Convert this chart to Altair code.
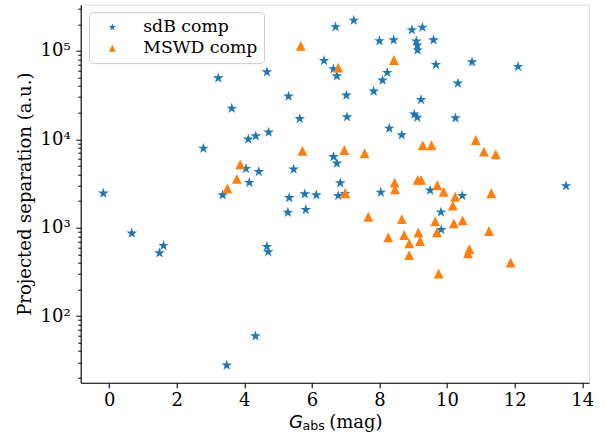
import altair as alt
import pandas as pd

# sdB companions: absolute G magnitude and projected separation (a.u.)
sdb_g = [-0.17, 3.36, 3.23, 4.67, 6.70, 6.36, 6.64, 6.74, 5.31, 3.63, 5.64, 2.79, 4.12, 4.34,
         4.72, 4.05, 4.43, 4.15, 5.46, 6.64, 6.74, 6.84, 5.33, 5.79, 6.13, 6.78, 6.98, 5.29, 5.82,
         0.67, 1.61, 1.49, 4.67, 4.71, 4.33, 3.48, 7.24, 8.00, 8.42, 8.96, 9.27, 9.09, 9.12,
         9.13, 9.60, 9.67, 10.74, 12.10, 8.23, 8.09, 7.83, 7.02, 10.32, 9.23, 7.04, 9.03, 9.12,
         10.25, 8.29, 8.66, 13.52, 8.04, 9.50, 10.45, 9.82, 9.83]
sdb_sep = [2450, 2340, 49400, 57800, 187000, 77600, 62500, 52100, 30700, 22400, 17100, 7900,
           10000, 10900, 12000, 4650, 4300, 3230, 4580, 6350, 5350, 3200, 2180, 2400, 2340, 2300,
           2420, 1490, 1600, 863, 625, 516, 610, 531, 59.4, 27.7, 222000, 130000, 133000, 173000,
           185000, 129000, 116000, 102000, 133000, 70000, 75000, 66500, 56800, 46600, 35000,
           31500, 43100, 28100, 17900, 19200, 17700, 17400, 13300, 11200, 2970, 2510, 2650, 2300,
           1500, 948]

# MSWD companions
mswd_g = [5.67, 6.78, 5.72, 3.88, 3.78, 3.50, 8.43, 6.96, 7.56, 9.28, 9.54, 10.85, 11.09, 11.44,
          8.45, 8.46, 9.13, 9.23, 9.71, 9.90, 10.24, 11.31, 6.99, 10.17, 7.67, 8.66, 9.65, 10.20,
          10.46, 11.24, 8.26, 8.73, 9.15, 8.88, 9.20, 9.70, 8.88, 10.66, 10.62, 11.88, 9.75]
mswd_sep = [114000, 64700, 7430, 5210, 3560, 2790, 79100, 7570, 6950, 8560, 8560, 9820, 7250,
            6770, 3230, 2720, 3470, 3470, 3020, 2550, 2240, 2450, 2450, 1780, 1330, 1250, 1180,
            1120, 1210, 916, 778, 826, 886, 665, 706, 886, 490, 573, 513, 402, 302]

groups = ["sdB comp", "MSWD comp"]
x_ticks = [0, 2, 4, 6, 8, 10, 12, 14]
y_major = [100, 1000, 10000, 100000]
y_minor_mult = [2, 3, 4, 5, 6, 7, 8, 9]

df = pd.DataFrame({
    "g": sdb_g + mswd_g,
    "sep": sdb_sep + mswd_sep,
    "grp": [groups[0]] * len(sdb_g) + [groups[1]] * len(mswd_g),
})

y_vals = []
for d in [10, 100, 1000, 10000, 100000]:
    if d in y_major:
        y_vals.append(d)
    for m in y_minor_mult:
        v = d * m
        if 17.6 <= v <= 334000:
            y_vals.append(v)

STAR = ("M0,-1L0.2245,-0.309L0.9511,-0.309L0.3633,0.118L0.5878,0.809L0,0.382"
        "L-0.5878,0.809L-0.3633,0.118L-0.9511,-0.309L-0.2245,-0.309Z")
TRI = "M0,-0.88L0.88,0.88L-0.88,0.88Z"
SERIF = "DejaVu Serif"
FS = 18

W, H = 508.3, 378

legend_opts = dict(title=None, orient="none", legendX=8.3, legendY=7.4,
                   padding=6.5, cornerRadius=4, strokeColor="#cccccc",
                   fillColor="rgba(255,255,255,0.8)", labelFont=SERIF,
                   labelFontSize=17.3, labelColor="black", symbolSize=60,
                   symbolOffset=8.2, labelOffset=22.2, rowPadding=3,
                   symbolStrokeWidth=0)

points = alt.Chart(df).mark_point(filled=True, opacity=1, size=125, strokeWidth=1).encode(
    x=alt.X("g:Q",
            scale=alt.Scale(domain=[-0.84, 14.2], nice=False, zero=False),
            axis=alt.Axis(values=x_ticks, grid=False, title=None, tickSize=5, tickWidth=1.1,
                          tickColor="black", domainColor="black", domainWidth=1.1,
                          labelFont=SERIF, labelFontSize=FS, labelColor="black",
                          labelPadding=4, labelFlush=False)),
    y=alt.Y("sep:Q",
            scale=alt.Scale(type="log", domain=[17.6, 334000], nice=False),
            axis=alt.Axis(values=y_vals, grid=False, tickWidth=1,
                          tickSize={"condition": {"test": "abs(log(datum.value)/LN10 - round(log(datum.value)/LN10)) < 0.001", "value": 5}, "value": 3},
                          tickColor="black", domainColor="black", domainWidth=1.1,
                          labelExpr="datum.value == 100 ? '10²' : datum.value == 1000 ? '10³' : datum.value == 10000 ? '10⁴' : datum.value == 100000 ? '10⁵' : ''",
                          labelFont=SERIF, labelFontSize=FS, labelColor="black", labelPadding=5.5,
                          labelFlush=False, labelOverlap=False,
                          title="Projected separation (a.u.)", titleFont=SERIF, titleFontSize=FS,
                          titleFontWeight="normal", titleColor="black", titleAngle=270,
                          titleX=-50.2, titleY=H / 2, titleAlign="center",
                          titleBaseline="alphabetic")),
    color=alt.Color("grp:N", scale=alt.Scale(domain=groups, range=["#1f77b4", "#ff7f0e"]),
                    legend=alt.Legend(**legend_opts)),
    shape=alt.Shape("grp:N", scale=alt.Scale(domain=groups, range=[STAR, TRI]),
                    legend=alt.Legend(**legend_opts)),
)

title_df = pd.DataFrame({"k": [0]})
t_g = alt.Chart(title_df).mark_text(text="G", font="DejaVu Sans", fontStyle="italic", fontSize=FS,
                                    align="left", baseline="alphabetic", color="black").encode(
    x=alt.value(208.4), y=alt.value(423.6))
t_abs = alt.Chart(title_df).mark_text(text="abs", font="DejaVu Sans", fontSize=12.6,
                                      align="left", baseline="alphabetic", color="black").encode(
    x=alt.value(221.9), y=alt.value(425.3))
t_mag = alt.Chart(title_df).mark_text(text="(mag)", font=SERIF, fontSize=FS,
                                      align="left", baseline="alphabetic", color="black").encode(
    x=alt.value(248.5), y=alt.value(423.6))

chart = alt.layer(points, t_g, t_abs, t_mag).properties(
    width=W, height=H,
    autosize=alt.AutoSizeParams(type="none"),
    padding={"left": 80.7, "top": 4.7, "right": 16, "bottom": 56},
).configure_view(stroke="black", strokeWidth=1.1).configure(background="white")

chart.save("out.html", embed_options={"renderer": "svg", "actions": False})
